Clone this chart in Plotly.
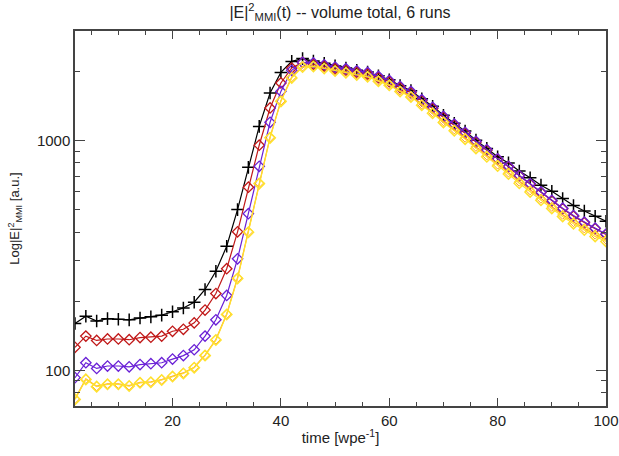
import plotly.graph_objects as go

# time axis
t = list(range(2, 101, 2))

black = [160, 172, 164, 168, 167, 166, 169, 171, 174, 180,
         187, 198, 225, 270, 347, 501, 765, 1153, 1611, 1981,
         2212, 2275, 2220, 2170, 2115, 2070, 2025, 1990, 1915, 1840,
         1735, 1650, 1520, 1410, 1290, 1190, 1100, 1005, 925, 850,
         800, 738, 689, 640, 602, 560, 522, 494, 469, 446]

red = [126, 141, 135, 137, 137, 136, 139, 139.5, 141, 148,
       151, 161, 183, 216, 277, 401, 627, 955, 1387, 1782,
       2070, 2189, 2150, 2110, 2060, 2025, 1985, 1950, 1878, 1805,
       1700, 1615, 1490, 1380, 1262, 1168, 1077, 985, 908, 830,
       770, 703, 646, 594, 546, 505, 469, 439, 414, 390]

purple = [93, 108, 102, 104.5, 104.5, 103.7, 106, 107, 108, 112,
          116, 123, 141, 166, 212, 306, 481, 773, 1202, 1638,
          2022, 2190, 2177, 2139, 2089, 2056, 2014, 1981, 1904, 1829,
          1722, 1637, 1507, 1396, 1276, 1180, 1087, 993, 914, 833,
          773, 705, 650, 598, 550, 508, 472, 442, 416, 392]

orange = [75.2, 91.8, 85.4, 87.4, 87.4, 85.9, 88.7, 89.2, 91.2, 94.4,
          97.5, 103.3, 116.6, 136.3, 176, 253, 402, 655, 1036, 1492,
          1890, 2105, 2115, 2075, 2025, 1990, 1945, 1910, 1830, 1755,
          1650, 1565, 1440, 1330, 1215, 1120, 1030, 940, 863, 787,
          727, 663, 608, 559, 515, 476, 442, 415, 390, 371]

yellow = [74.8, 91.4, 85, 87, 87, 85.5, 88.3, 88.8, 90.8, 94,
          97, 102.8, 116, 135.5, 175, 251, 399, 650, 1028, 1482,
          1875, 2090, 2100, 2060, 2010, 1975, 1930, 1895, 1815, 1740,
          1635, 1550, 1425, 1315, 1200, 1105, 1015, 925, 850, 775,
          715, 652, 598, 550, 507, 468, 435, 408, 383, 364]

x_ticks = [20, 40, 60, 80, 100]
y_ticks = [100, 1000]
y_minor = [70, 80, 90, 200, 300, 400, 500, 600, 700, 800, 900, 2000, 3000]

FONT = "Liberation Sans"
AX = "#444444"
TXT = "#222222"
Y_RANGE = [1.8451, 3.4771]

W, H = 619, 456

fig = go.Figure()

series = [
    (black, "#000000", "cross-thin", 9, 1.5),
    (red, "#c01818", "diamond-open", 8, 1.3),
    (purple, "#6a20d6", "diamond-open", 8, 1.3),
    (orange, "#ffa020", "diamond-open", 7, 1.0),
    (yellow, "#ffe22e", "diamond-open", 8, 1.5),
]
for vals, col, sym, sz, mw in series:
    fig.add_trace(go.Scatter(
        x=t, y=vals, mode="lines+markers",
        line=dict(color=col, width=1.2),
        marker=dict(symbol=sym, size=sz, color=col,
                    line=dict(color=col, width=mw)),
        showlegend=False,
    ))

axis_common = dict(
    showline=True, linecolor=AX, linewidth=1.5,
    mirror="ticks", ticks="inside", tickcolor=AX,
    showgrid=False, zeroline=False, automargin=False,
    tickfont=dict(family=FONT, size=15, color=TXT),
)

fig.update_xaxes(
    range=[2, 100], tickvals=x_ticks, ticklen=8, tickwidth=1.3,
    minor=dict(dtick=5, tick0=0, ticklen=4, ticks="inside",
               tickcolor=AX, tickwidth=1.2),
    title=dict(text="time [wpe<sup>-1</sup>]",
               font=dict(family=FONT, size=15, color=TXT),
               standoff=5),
    **axis_common,
)
fig.update_yaxes(
    type="log", range=Y_RANGE, tickvals=y_ticks,
    ticktext=[str(v) for v in y_ticks], ticklen=10, tickwidth=1.3,
    title=dict(text="Log|E|<sup>2</sup><sub>MMI</sub> [a.u.]",
               font=dict(family=FONT, size=13, color=TXT),
               standoff=14),
    **axis_common,
)

# overlay axis carrying the short minor log ticks
fig.update_layout(
    yaxis2=dict(
        overlaying="y", type="log", range=Y_RANGE, tickvals=y_minor,
        showticklabels=False, ticks="inside", ticklen=5, tickwidth=1.2,
        tickcolor=AX, mirror="ticks", showline=True, linecolor=AX,
        linewidth=1.5, showgrid=False, zeroline=False, automargin=False,
    ),
)
fig.add_trace(go.Scatter(x=[t[0]], y=[purple[0]], yaxis="y2", mode="markers",
                         marker=dict(opacity=0), showlegend=False,
                         hoverinfo="skip"))

fig.update_layout(
    width=W, height=H,
    margin=dict(l=75, r=13, t=31, b=50),
    plot_bgcolor="white", paper_bgcolor="white",
    title=dict(text="|E|<sup>2</sup><sub>MMI</sub>(t) -- volume total, 6 runs",
               x=340 / W, xanchor="center", xref="container",
               y=1 - 12 / H, yanchor="middle", yref="container",
               font=dict(family=FONT, size=16, color=TXT)),
)

# remove the browser's default page margin so the figure fills the window
fig.write_html(
    "out.html",
    config={"displayModeBar": False},
    post_script="document.body.style.margin='0';"
                "document.body.style.overflow='hidden';",
)
